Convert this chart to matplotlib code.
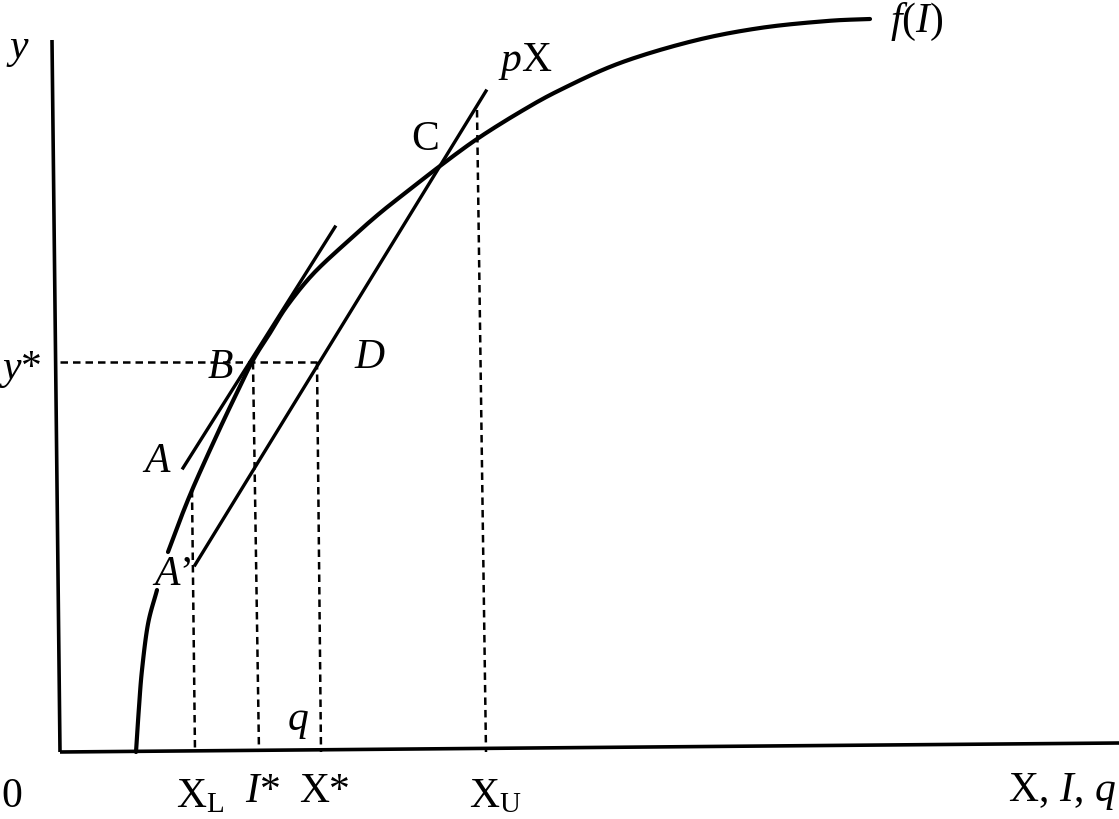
import matplotlib
matplotlib.use("Agg")
import matplotlib.pyplot as plt
import numpy as np

plt.rcParams['mathtext.fontset'] = 'custom'
plt.rcParams['mathtext.rm'] = 'Liberation Serif'
plt.rcParams['mathtext.it'] = 'Liberation Serif:italic'
plt.rcParams['font.family'] = ['Liberation Serif', 'DejaVu Serif']

# production curve f(I)
curva_x = [76, 79, 82, 88, 97, 108, 120, 130, 140, 155, 170, 192, 210, 227,
           253, 287, 320, 353, 380, 417, 460, 500, 560, 633, 700, 767, 810]
curva_y = [0, 45, 82, 128, 162, 200, 232, 257, 280, 313, 345, 390, 419, 446,
           478, 510, 539, 565, 586, 613, 640, 662, 689, 711, 724, 731, 733]
corte = 5  # gap in the curve where the A' label sits

# tangent at B and the revenue line pX
tangente_x = [123, 275]
tangente_y = [284, 525]
px_x = [135, 426]
px_y = [187, 661]

# axes (slightly tilted in the scan)
eixo_y_x = [0, -8]
eixo_y_y = [0, 712]
eixo_x_x = [0, 1059]
eixo_x_y = [0, 9]

# dashed guides: (x top, y top, x bottom)
y_estrela = 390
ponto_D = 257
guias = {
    'XL': (132, 262, 135),
    'I*': (193, 390, 199),
    'X*': (257, 390, 261),
    'XU': (417, 642, 426),
}

rotulos = [
    (-42, 702, r'$y$'),
    (-40, 382, r'$y$*'),
    (-48, -45, '0'),
    (140, -45, r'$\mathrm{X}_\mathrm{L}$'),
    (202, -40, r'$I$*'),
    (265, -40, 'X*'),
    (435, -45, r'$\mathrm{X}_\mathrm{U}$'),
    (1002, -40, r'$\mathrm{X},\,I,\,q$'),
    (238, 30, r'$q$'),
    (97, 290, r'$A$'),
    (112, 177, r'$A$’'),
    (160, 384, r'$B$'),
    (310, 394, r'$D$'),
    (365, 612, 'C'),
    (465, 690, r'$p\mathrm{X}$'),
    (857, 730, r'$f(I)$'),
]


def suave(xs, ys, n=16):
    # catmull-rom pelos pontos lidos, so para o traço ficar liso
    p = np.column_stack([xs, ys]).astype(float)
    p = np.vstack([2 * p[0] - p[1], p, 2 * p[-1] - p[-2]])
    t = np.linspace(0, 1, n, endpoint=False)[:, None]
    saida = []
    for i in range(1, len(p) - 2):
        p0, p1, p2, p3 = p[i - 1], p[i], p[i + 1], p[i + 2]
        saida.append(0.5 * (2 * p1 + (-p0 + p2) * t
                            + (2 * p0 - 5 * p1 + 4 * p2 - p3) * t ** 2
                            + (-p0 + 3 * p1 - 3 * p2 + p3) * t ** 3))
    saida.append(p[-2][None, :])
    s = np.vstack(saida)
    return s[:, 0], s[:, 1]


fig = plt.figure(figsize=(11.19, 8.19), dpi=100)
ax = fig.add_axes([0, 0, 1, 1])
ax.set_xlim(-60, 1059)
ax.set_ylim(-67, 752)
ax.axis('off')

ax.plot(eixo_y_x, eixo_y_y, color='black', lw=2.6, solid_capstyle='butt')
ax.plot(eixo_x_x, eixo_x_y, color='black', lw=2.6, solid_capstyle='butt')

for xs, ys in [(curva_x[:corte], curva_y[:corte]),
               (curva_x[corte:], curva_y[corte:])]:
    sx, sy = suave(xs, ys)
    ax.plot(sx, sy, color='black', lw=3.0, solid_capstyle='round')

ax.plot(tangente_x, tangente_y, color='black', lw=2.4)
ax.plot(px_x, px_y, color='black', lw=2.4)

estilo = dict(color='black', lw=1.8, linestyle=(0, (3, 2)))
ax.plot([0, ponto_D], [y_estrela, y_estrela], **estilo)
for x_topo, y_topo, x_base in guias.values():
    ax.plot([x_topo, x_base], [y_topo, 0], **estilo)

for x, y, texto in rotulos:
    ax.text(x, y, texto, fontsize=30, ha='center', va='center')

fig.savefig('out.png', dpi=100)
